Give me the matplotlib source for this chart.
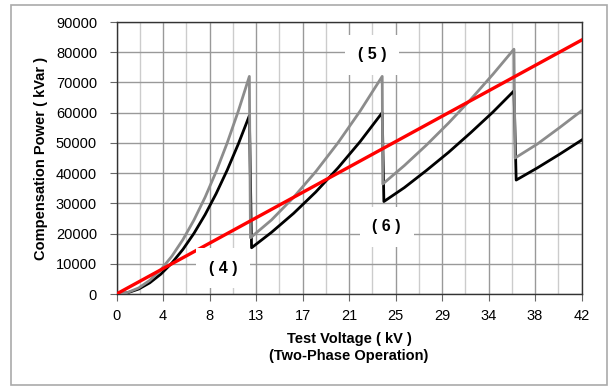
import matplotlib
matplotlib.use("Agg")
import matplotlib.pyplot as plt
from matplotlib.patches import Rectangle

plt.rcParams['font.family'] = ['Liberation Sans', 'DejaVu Sans']

# Red line (4)
v_red = [0, 42]
p_red = [0, 84000]

# Gray curve (5)
v_gray = [0, 1, 2, 3, 4, 5, 6, 7, 8, 9, 10, 11, 12,
          12.1, 14, 16, 18, 20, 22, 24,
          24.05, 26, 28, 30, 32, 34, 35.9,
          36.0, 38, 40, 42]
p_gray = [0, 500, 2000, 4500, 8000, 12500, 18000, 24500, 32000, 40500, 50000, 60500, 72000,
          18600, 24500, 32000, 40500, 50000, 60500, 72000,
          36400, 42500, 49300, 56600, 64400, 72700, 81000,
          45000, 49600, 55000, 60600]

# Black curve (6)
v_black = [0, 1, 2, 3, 4, 5, 6, 7, 8, 9, 10, 11, 12,
           12.2, 14, 16, 18, 20, 22, 24,
           24.15, 26, 28, 30, 32, 34, 35.9,
           36.1, 38, 40, 42]
p_black = [0, 410, 1640, 3690, 6560, 10250, 14760, 20090, 26240, 33210, 41000, 49610, 59000,
           15300, 20400, 26700, 33750, 41700, 50400, 60000,
           30600, 35200, 40900, 46900, 53400, 60200, 67200,
           37700, 41700, 46200, 50900]

x_ticks = [0, 4.2, 8.4, 12.6, 16.8, 21.0, 25.2, 29.4, 33.6, 37.8, 42.0]
x_tick_labels = ["0", "4", "8", "13", "17", "21", "25", "29", "34", "38", "42"]
y_ticks = [0, 10000, 20000, 30000, 40000, 50000, 60000, 70000, 80000, 90000]

labels = ["( 4 )", "( 5 )", "( 6 )"]
label_pos = [(9.6, 8600), (23.1, 79100), (24.4, 22200)]

fig = plt.figure(figsize=(6.10, 3.87), dpi=100)
fig.patches.append(Rectangle((11/610, 1 - 385/387), 596/610, 380/387,
                             transform=fig.transFigure, fill=False,
                             edgecolor='#aaaaaa', linewidth=1.2))
ax = fig.add_axes([116.5/610, 1 - 294/387, 465/610, 272/387])

ax.set_xlim(0, 42)
ax.set_ylim(0, 90000)
ax.set_xticks(x_ticks)
ax.set_xticklabels(x_tick_labels)
ax.set_xticks([(a + b) / 2 for a, b in zip(x_ticks[:-1], x_ticks[1:])], minor=True)
ax.set_yticks(y_ticks)
ax.set_yticklabels([str(v) for v in y_ticks])

ax.grid(True, which='major', axis='both', color='#999999', linewidth=1.0)
ax.grid(True, which='minor', axis='x', color='#cccccc', linewidth=1.0)
ax.set_axisbelow(True)

ax.tick_params(axis='both', which='major', labelsize=10.5, length=5, width=0.8,
               color='#666666', direction='out')
ax.tick_params(axis='y', pad=9)
ax.tick_params(axis='x', pad=6)
ax.tick_params(axis='x', which='minor', length=0)
for s in ax.spines.values():
    s.set_color('#333333')
    s.set_linewidth(1.0)

ax.plot(v_black, p_black, color='black', linewidth=2.0, zorder=3)
ax.plot(v_gray, p_gray, color='#8c8c8c', linewidth=2.0, zorder=4)
ax.plot(v_red, p_red, color='#ff0000', linewidth=2.4, zorder=5)

for t, (x, y) in zip(labels, label_pos):
    ax.text(x, y, t, ha='center', va='center', fontsize=11.5, fontweight='bold',
            zorder=6,
            bbox=dict(boxstyle='square,pad=0.8', facecolor='white', edgecolor='none'))

ax.set_ylabel('Compensation Power ( kVar )', fontsize=10.5, fontweight='bold', labelpad=6)
ax.set_xlabel('Test Voltage ( kV )\n(Two-Phase Operation)', fontsize=10.5,
              fontweight='bold', labelpad=6, linespacing=1.3)

fig.savefig('out.png', dpi=100)
